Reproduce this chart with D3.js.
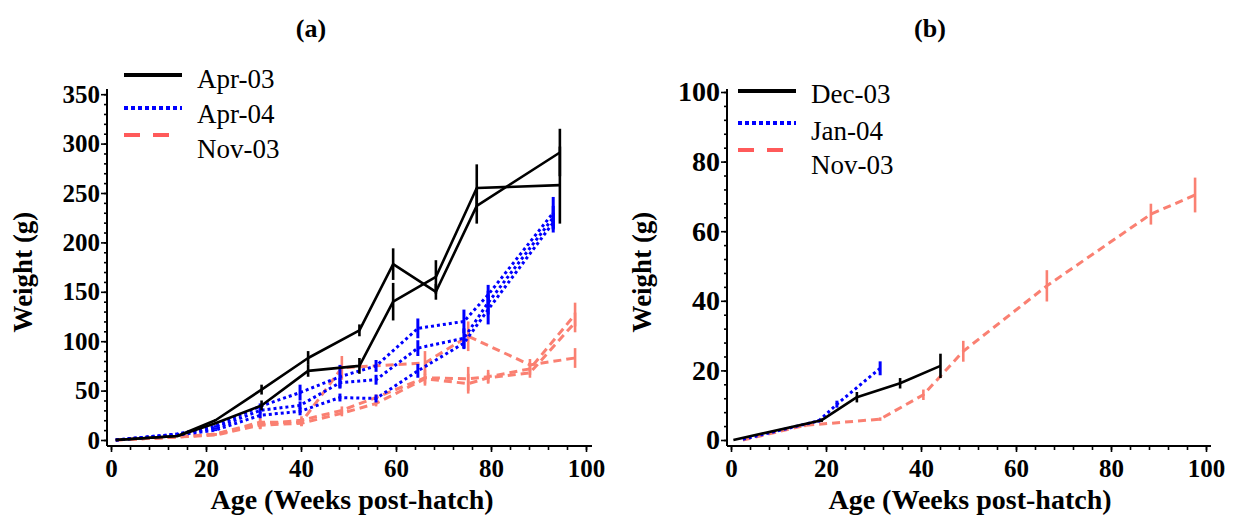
<!DOCTYPE html>
<html>
<head>
<meta charset="utf-8">
<script src="https://cdn.jsdelivr.net/npm/d3@7"></script>
<style>
  body { margin: 0; background: #fff; }
  svg { display: block; }
  .tick text { font-family: "Liberation Serif", serif; font-weight: bold; fill: #000; }
</style>
</head>
<body>
<svg id="chart" width="1233" height="515"></svg>
<script>
// ---------- panel (a) ----------
const weeksApr03 = [1, 14, 22, 31.7, 41.5, 52.3, 59.4, 68.4, 77, 94.5];
const apr03LineA = [0, 4, 20, 51, 83, 111, 178, 150, 237, 291];
const apr03ErrA  = [0, 0, 1, 5, 7, 6, 16, 8, 18, 24];
const apr03LineB = [0, 4, 17, 35, 70, 75, 140, 165, 255, 258];
const apr03ErrB  = [0, 0, 1, 5, 6, 8, 19, 17, 24, 39];

const weeksApr04 = [1, 14, 22, 31.4, 39.8, 48.2, 55.8, 64.6, 74.3, 79.4, 93.1];
const apr04LineA = [0, 6, 14, 34, 48, 64, 75, 113, 120, 147, 230];
const apr04ErrA  = [0, 1, 1, 3, 8, 12, 6, 10, 12, 10, 16];
const apr04LineB = [0, 6, 12, 30, 35, 58, 61, 93, 103, 139, 225];
const apr04ErrB  = [0, 1, 1, 3, 4, 5, 5, 8, 10, 12, 12];
const apr04LineC = [0, 5, 10, 25, 29, 43, 42, 70, 98, 132, 220];
const apr04ErrC  = [0, 1, 1, 3, 4, 4, 4, 7, 6, 15, 10];

const weeksNov03a = [1, 14, 22, 31.4, 40.1, 48.6, 66.1, 75.2, 88.2, 97.7];
const nov03LineA  = [0, 3, 6, 18, 18, 73, 78, 105, 76, 83];
const nov03ErrA   = [0, 0, 1, 6, 4, 12, 12, 15, 6, 10];
const weeksNov03b = [1, 14, 22, 31.4, 40.1, 48.6, 55.8, 66.1, 75.2, 79.4, 88.2, 97.7];
const nov03LineB  = [0, 3, 6, 16, 20, 30, 43, 63, 62, 64, 72, 127];
const nov03ErrB   = [0, 0, 1, 5, 4, 4, 3, 8, 12, 7, 6, 12];
const nov03LineC  = [0, 3, 5, 15, 17, 27, 37, 62, 57, 63, 68, 119];
const nov03ErrC   = [0, 0, 1, 4, 3, 3, 3, 5, 10, 5, 5, 10];

// ---------- panel (b) ----------
const weeksDec03 = [0.5, 19.1, 26.5, 35.6, 44.1];
const dec03Grams = [0, 5.7, 12.3, 16.3, 21.3];
const dec03Err   = [0, 0.5, 1.5, 1.5, 3.5];
const weeksJan04 = [2.5, 18.5, 22.3, 31.4];
const jan04Grams = [0.2, 5.5, 10.3, 20.6];
const jan04Err   = [0, 0.5, 1, 2];
const weeksNov03 = [2.5, 15.6, 31.4, 40.5, 48.9, 66.5, 88.4, 97.7];
const nov03Grams = [0, 4.2, 6, 13, 25.5, 44.3, 64.9, 70.4];
const nov03Err   = [0, 0.5, 0.5, 1.5, 3, 4.5, 3, 5];

const xTicks = [0, 20, 40, 60, 80, 100];
const yTicksA = [0, 50, 100, 150, 200, 250, 300, 350];
const yTicksB = [0, 20, 40, 60, 80, 100];

const estilos = {
  black: { color: '#000', width: 2.6, dash: null, barW: 2.6 },
  blue:  { color: '#0000ff', width: 3, dash: '3,3', barW: 3 },
  red:   { color: '#fa8072', width: 3, dash: '8,5', barW: 2.6 }
};

const svg = d3.select('#chart');

function juntar(xs, ys, es) {
  return xs.map((x, i) => ({ x: x, y: ys[i], e: es[i] }));
}

function panel(cfg) {
  const x = d3.scaleLinear().domain([0, 100]).range(cfg.xr);
  const y = d3.scaleLinear().domain([0, cfg.ymax]).range(cfg.yr);
  const g = svg.append('g');

  // lineas de ejes
  g.append('line').attr('x1', cfg.axX).attr('x2', cfg.axX)
    .attr('y1', cfg.axY).attr('y2', cfg.yTop)
    .attr('stroke', '#000').attr('stroke-width', 2);
  g.append('line').attr('x1', cfg.axX).attr('x2', cfg.xEnd)
    .attr('y1', cfg.axY).attr('y2', cfg.axY)
    .attr('stroke', '#000').attr('stroke-width', 2);

  // ticks menores
  const ejeYmenor = g.append('g').attr('transform', `translate(${cfg.axX},0)`)
    .call(d3.axisLeft(y).tickValues(d3.range(0, cfg.ymax + 0.01, cfg.yMinor)).tickSize(3).tickFormat(''));
  const ejeXmenor = g.append('g').attr('transform', `translate(0,${cfg.axY})`)
    .call(d3.axisBottom(x).tickValues(d3.range(0, 100.01, 4)).tickSize(4).tickFormat(''));

  // ticks mayores
  const ejeY = g.append('g').attr('transform', `translate(${cfg.axX},0)`)
    .call(d3.axisLeft(y).tickValues(cfg.yTicks).tickSize(6).tickPadding(1).tickFormat(d3.format('d')));
  const ejeX = g.append('g').attr('transform', `translate(0,${cfg.axY})`)
    .call(d3.axisBottom(x).tickValues(xTicks).tickSize(6).tickPadding(7).tickFormat(d3.format('d')));

  [ejeYmenor, ejeXmenor, ejeY, ejeX].forEach(a => {
    a.select('.domain').remove();
    a.selectAll('.tick line').attr('stroke', '#000').attr('stroke-width', 1.6);
  });
  ejeY.selectAll('.tick text').style('font-size', cfg.yFont + 'px');
  ejeX.selectAll('.tick text').style('font-size', '25px');

  // titulos
  g.append('text').attr('x', cfg.titleX).attr('y', 37)
    .attr('text-anchor', 'middle')
    .style('font-family', '"Liberation Serif", serif').style('font-weight', 'bold').style('font-size', '26px')
    .text(cfg.title);
  g.append('text').attr('x', cfg.xLabelX).attr('y', 509)
    .attr('text-anchor', 'middle')
    .style('font-family', '"Liberation Serif", serif').style('font-weight', 'bold').style('font-size', '28px')
    .text('Age (Weeks post-hatch)');
  g.append('text')
    .attr('transform', `translate(${cfg.yLabelX},272) rotate(-90)`)
    .attr('text-anchor', 'middle')
    .style('font-family', '"Liberation Serif", serif').style('font-weight', 'bold').style('font-size', '27px')
    .text('Weight (g)');

  const linea = d3.line().x(d => x(d.x)).y(d => y(d.y));

  cfg.series.forEach(s => {
    const st = estilos[s.estilo];
    g.append('path').datum(s.datos)
      .attr('d', linea)
      .attr('fill', 'none')
      .attr('stroke', st.color)
      .attr('stroke-width', st.width)
      .attr('stroke-dasharray', st.dash)
      .attr('stroke-linejoin', 'round');
    g.append('g').selectAll('line')
      .data(s.datos.filter(d => d.e > 0.8 * cfg.ymax / 350))
      .join('line')
      .attr('x1', d => x(d.x)).attr('x2', d => x(d.x))
      .attr('y1', d => y(d.y - d.e)).attr('y2', d => y(d.y + d.e))
      .attr('stroke', st.color)
      .attr('stroke-width', st.barW);
  });

  // leyenda
  const leg = g.append('g');
  cfg.legend.forEach((it, i) => {
    const st = estilos[it.estilo];
    leg.append('line')
      .attr('x1', cfg.legX).attr('x2', cfg.legX + 58)
      .attr('y1', cfg.legLineY[i]).attr('y2', cfg.legLineY[i])
      .attr('stroke', it.estilo === 'red' ? '#ff5a5a' : st.color)
      .attr('stroke-width', 3.8)
      .attr('stroke-dasharray', it.estilo === 'blue' ? '4,3' : it.estilo === 'red' ? '16,13' : null);
    leg.append('text')
      .attr('x', cfg.legX + 73).attr('y', cfg.legTextY[i])
      .style('font-family', '"Liberation Serif", serif').style('font-size', '27px')
      .text(it.label);
  });
}

panel({
  title: '(a)', titleX: 311, xLabelX: 352, yLabelX: 32, yFont: 25,
  xr: [111, 586], yr: [440, 94.2], ymax: 350, yMinor: 10, yTicks: yTicksA,
  axX: 107, axY: 446, yTop: 89, xEnd: 592,
  series: [
    { estilo: 'red', datos: juntar(weeksNov03a, nov03LineA, nov03ErrA) },
    { estilo: 'red', datos: juntar(weeksNov03b, nov03LineB, nov03ErrB) },
    { estilo: 'red', datos: juntar(weeksNov03b, nov03LineC, nov03ErrC) },
    { estilo: 'blue', datos: juntar(weeksApr04, apr04LineA, apr04ErrA) },
    { estilo: 'blue', datos: juntar(weeksApr04, apr04LineB, apr04ErrB) },
    { estilo: 'blue', datos: juntar(weeksApr04, apr04LineC, apr04ErrC) },
    { estilo: 'black', datos: juntar(weeksApr03, apr03LineA, apr03ErrA) },
    { estilo: 'black', datos: juntar(weeksApr03, apr03LineB, apr03ErrB) }
  ],
  legend: [
    { estilo: 'black', label: 'Apr-03' },
    { estilo: 'blue', label: 'Apr-04' },
    { estilo: 'red', label: 'Nov-03' }
  ],
  legX: 124, legLineY: [75, 108, 135], legTextY: [88, 123, 158]
});

panel({
  title: '(b)', titleX: 930, xLabelX: 970, yLabelX: 651, yFont: 28,
  xr: [731, 1206], yr: [440, 92], ymax: 100, yMinor: 4, yTicks: yTicksB,
  axX: 727, axY: 446, yTop: 89, xEnd: 1211,
  series: [
    { estilo: 'red', datos: juntar(weeksNov03, nov03Grams, nov03Err) },
    { estilo: 'blue', datos: juntar(weeksJan04, jan04Grams, jan04Err) },
    { estilo: 'black', datos: juntar(weeksDec03, dec03Grams, dec03Err) }
  ],
  legend: [
    { estilo: 'black', label: 'Dec-03' },
    { estilo: 'blue', label: 'Jan-04' },
    { estilo: 'red', label: 'Nov-03' }
  ],
  legX: 738, legLineY: [91, 123, 150], legTextY: [103, 140, 174]
});
</script>
</body>
</html>
